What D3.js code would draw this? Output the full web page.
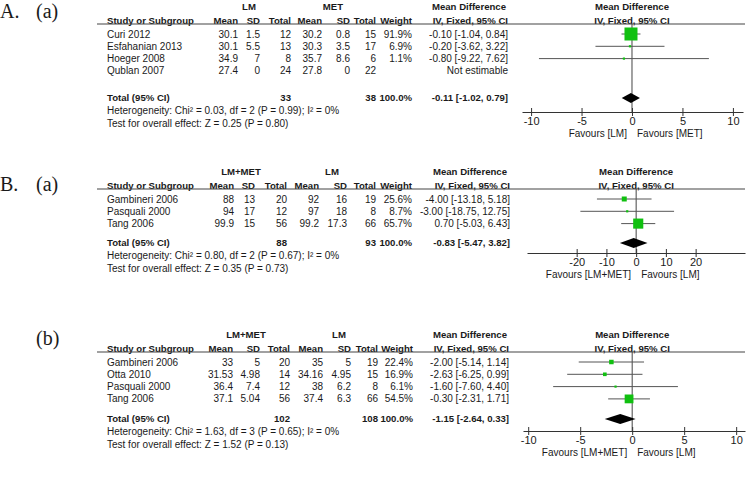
<!DOCTYPE html>
<html><head><meta charset="utf-8">
<script src="https://cdn.jsdelivr.net/npm/d3@7"></script>
<style>
body{margin:0;background:#fff}
svg{display:block}
text{font-family:"Liberation Sans",Arial,sans-serif;fill:#1a1a1a}
</style>
</head><body>
<svg id="c" width="749" height="480"></svg>
<script>
// ---------- DATA ----------
const colHeaders = ["Mean","SD","Total","Mean","SD","Total","Weight","IV, Fixed, 95% CI"];

// Panel A (a)
const groupsA = ["LM","MET"];
const studiesA = ["Curi 2012","Esfahanian 2013","Hoeger 2008","Qublan 2007"];
const cellsA = [
  ["30.1","1.5","12","30.2","0.8","15","91.9%","-0.10 [-1.04, 0.84]"],
  ["30.1","5.5","13","30.3","3.5","17","6.9%","-0.20 [-3.62, 3.22]"],
  ["34.9","7","8","35.7","8.6","6","1.1%","-0.80 [-9.22, 7.62]"],
  ["27.4","0","24","27.8","0","22","","Not estimable"]
];
const mdA = [-0.10,-0.20,-0.80,null];
const loA = [-1.04,-3.62,-9.22,null];
const hiA = [0.84,3.22,7.62,null];
const weightA = [91.9,6.9,1.1,0];
const totalCellsA = ["33","38","100.0%","-0.11 [-1.02, 0.79]"];
const totalEffA = [-0.11,-1.02,0.79];
const hetA = "Heterogeneity: Chi\u00B2 = 0.03, df = 2 (P = 0.99); I\u00B2 = 0%";
const testA = "Test for overall effect: Z = 0.25 (P = 0.80)";
const favoursA = ["Favours [LM]","Favours [MET]"];
const ticksA = [-10,-5,0,5,10];

// Panel B (a)
const groupsBa = ["LM+MET","LM"];
const studiesBa = ["Gambineri 2006","Pasquali 2000","Tang 2006"];
const cellsBa = [
  ["88","13","20","92","16","19","25.6%","-4.00 [-13.18, 5.18]"],
  ["94","17","12","97","18","8","8.7%","-3.00 [-18.75, 12.75]"],
  ["99.9","15","56","99.2","17.3","66","65.7%","0.70 [-5.03, 6.43]"]
];
const mdBa = [-4.00,-3.00,0.70];
const loBa = [-13.18,-18.75,-5.03];
const hiBa = [5.18,12.75,6.43];
const weightBa = [25.6,8.7,65.7];
const totalCellsBa = ["88","93","100.0%","-0.83 [-5.47, 3.82]"];
const totalEffBa = [-0.83,-5.47,3.82];
const hetBa = "Heterogeneity: Chi\u00B2 = 0.80, df = 2 (P = 0.67); I\u00B2 = 0%";
const testBa = "Test for overall effect: Z = 0.35 (P = 0.73)";
const favoursBa = ["Favours [LM+MET]","Favours [LM]"];
const ticksBa = [-20,-10,0,10,20];

// Panel B (b)
const groupsBb = ["LM+MET","LM"];
const studiesBb = ["Gambineri 2006","Otta 2010","Pasquali 2000","Tang 2006"];
const cellsBb = [
  ["33","5","20","35","5","19","22.4%","-2.00 [-5.14, 1.14]"],
  ["31.53","4.98","14","34.16","4.95","15","16.9%","-2.63 [-6.25, 0.99]"],
  ["36.4","7.4","12","38","6.2","8","6.1%","-1.60 [-7.60, 4.40]"],
  ["37.1","5.04","56","37.4","6.3","66","54.5%","-0.30 [-2.31, 1.71]"]
];
const mdBb = [-2.00,-2.63,-1.60,-0.30];
const loBb = [-5.14,-6.25,-7.60,-2.31];
const hiBb = [1.14,0.99,4.40,1.71];
const weightBb = [22.4,16.9,6.1,54.5];
const totalCellsBb = ["102","108","100.0%","-1.15 [-2.64, 0.33]"];
const totalEffBb = [-1.15,-2.64,0.33];
const hetBb = "Heterogeneity: Chi\u00B2 = 1.63, df = 3 (P = 0.65); I\u00B2 = 0%";
const testBb = "Test for overall effect: Z = 1.52 (P = 0.13)";
const favoursBb = ["Favours [LM+MET]","Favours [LM]"];
const ticksBb = [-10,-5,0,5,10];

// ---------- LAYOUT ----------
const panels = [
  {label:"A.", sub:"(a)", labelY:11, top:7, totalY:98, axisY:112,
   groups:groupsA, groupX:[249,333], studies:studiesA, cells:cellsA,
   md:mdA, lo:loA, hi:hiA, w:weightA, totalCells:totalCellsA, totalEff:totalEffA, het:hetA, test:testA,
   favours:favoursA, ticks:ticksA, cols:[238,260,291,322,350,376,412,508], mdHeadX:469,
   xDomain:[-10.9,11], xRange:[522,743]},
  {label:"B.", sub:"(a)", labelY:184, top:172, totalY:243, axisY:253,
   groups:groupsBa, groupX:[241,332], studies:studiesBa, cells:cellsBa,
   md:mdBa, lo:loBa, hi:hiBa, w:weightBa, totalCells:totalCellsBa, totalEff:totalEffBa, het:hetBa, test:testBa,
   favours:favoursBa, ticks:ticksBa, cols:[234,255,287,319,347,376,412,510], mdHeadX:470,
   xDomain:[-36.7,36.6], xRange:[527,745]},
  {label:"", sub:"(b)", labelY:338, top:335, totalY:419, axisY:431,
   groups:groupsBb, groupX:[246,339], studies:studiesBb, cells:cellsBb,
   md:mdBb, lo:loBb, hi:hiBb, w:weightBb, totalCells:totalCellsBb, totalEff:totalEffBb, het:hetBb, test:testBb,
   favours:favoursBb, ticks:ticksBb, cols:[233,260,290,323,351,378,413,509], mdHeadX:470,
   xDomain:[-10.5,10.85], xRange:[523,745]}
];

const svg = d3.select("#c");
const FS = 10, FSB = 9.6;
const sizeScale = d3.scalePow().exponent(0.75).domain([0,91.9]).range([0,13]);

panels.forEach(p => {
  const g = svg.append("g");
  const y1 = p.top, y2 = p.top + 13.5, yLine = p.top + 17;
  const rowY = i => p.top + 27 + 12.3 * i;
  const yTot = p.totalY;
  const yHet = yTot + 12.5, yTest = yHet + 12.5;
  const yAxis = p.axisY;

  const txt = (x, y, s, anchor, bold) => g.append("text")
    .attr("x", x).attr("y", y).attr("dy", "0.35em")
    .attr("text-anchor", anchor || "start")
    .style("font-size", (bold ? FSB : FS) + "px")
    .style("font-weight", bold ? "bold" : "normal")
    .text(s);

  // panel labels (serif)
  const serif = "'Liberation Serif','Times New Roman',serif";
  if (p.label) g.append("text").attr("x", 0).attr("y", p.labelY).attr("dy","0.35em")
     .style("font-family", serif).style("font-size","20px").text(p.label);
  g.append("text").attr("x", 36).attr("y", p.labelY).attr("dy","0.35em")
     .style("font-family", serif).style("font-size","20px").text(p.sub);

  // headers
  txt(p.groupX[0], y1, p.groups[0], "middle", true);
  txt(p.groupX[1], y1, p.groups[1], "middle", true);
  txt(p.mdHeadX, y1, "Mean Difference", "middle", true);
  txt(107, y2, "Study or Subgroup", "start", true);
  colHeaders.forEach((h, j) => txt(p.cols[j], y2, h, "end", true));

  const xs = d3.scaleLinear().domain(p.xDomain).range(p.xRange);
  const x0 = xs(0);
  txt(x0, y1, "Mean Difference", "middle", true);
  txt(x0, y2, "IV, Fixed, 95% CI", "middle", true);

  // header rule
  g.append("line").attr("x1", 97).attr("x2", 745).attr("y1", yLine).attr("y2", yLine)
    .attr("stroke", "#444").attr("stroke-width", 1.1);

  // rows
  p.studies.forEach((s, i) => {
    const y = rowY(i);
    txt(107, y, s);
    p.cells[i].forEach((c, j) => { if (c) txt(p.cols[j], y, c, "end"); });
  });

  // total row
  txt(107, yTot, "Total (95% CI)", "start", true);
  txt(p.cols[2], yTot, p.totalCells[0], "end", true);
  txt(p.cols[5], yTot, p.totalCells[1], "end", true);
  txt(p.cols[6], yTot, p.totalCells[2], "end", true);
  txt(p.cols[7], yTot, p.totalCells[3], "end", true);
  txt(107, yHet, p.het);
  txt(107, yTest, p.test);

  // zero line
  g.append("line").attr("x1", x0).attr("x2", x0).attr("y1", yLine).attr("y2", yAxis)
    .attr("stroke", "#444").attr("stroke-width", 1);

  // CIs and squares
  p.studies.forEach((s, i) => {
    if (p.md[i] === null) return;
    const y = rowY(i);
    g.append("line").attr("x1", xs(p.lo[i])).attr("x2", xs(p.hi[i])).attr("y1", y).attr("y2", y)
      .attr("stroke", "#555").attr("stroke-width", 1);
    const sz = Math.max(2.2, sizeScale(p.w[i]));
    g.append("rect").attr("x", xs(p.md[i]) - sz/2).attr("y", y - sz/2)
      .attr("width", sz).attr("height", sz).attr("fill", "#10c010");
  });

  // diamond
  const [tm, tl, th] = p.totalEff;
  g.append("path").attr("d", `M${xs(tl)},${yTot}L${xs(tm)},${yTot-5}L${xs(th)},${yTot}L${xs(tm)},${yTot+5}Z`)
    .attr("fill", "#000");

  // axis
  const ax = d3.axisBottom(xs).tickValues(p.ticks).tickFormat(d => String(d))
    .tickSizeInner(4).tickSizeOuter(0).tickPadding(1);
  const ag = g.append("g").attr("transform", `translate(0,${yAxis})`).call(ax);
  ag.select(".domain").attr("stroke", "#333").attr("stroke-width", 1.2);
  ag.selectAll(".tick line").attr("y1", -4).attr("y2", 4).attr("stroke", "#333");
  ag.selectAll(".tick text").style("font-size", "11px")
    .style("font-family", "'Liberation Sans',Arial,sans-serif").attr("fill", "#1a1a1a");

  txt(x0 - 5, yAxis + 21.5, p.favours[0], "end");
  txt(x0 + 5, yAxis + 21.5, p.favours[1], "start");
});
</script>
</body></html>
